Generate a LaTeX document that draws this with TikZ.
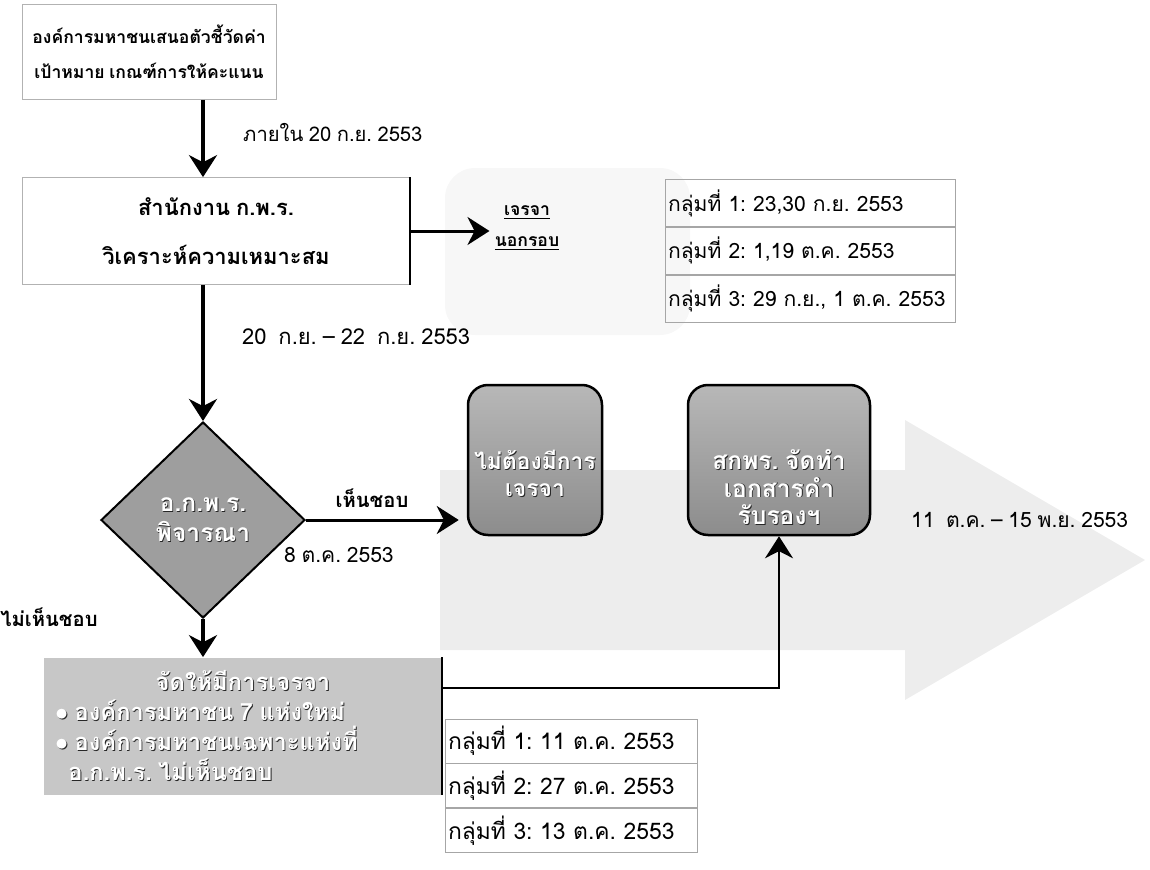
\documentclass[tikz,border=0pt]{standalone}
\usepackage{fontspec}
\setmainfont[Script=Thai, WordSpace=0.8]{Loma}
\usetikzlibrary{positioning}
\usetikzlibrary{shapes.geometric}
\usetikzlibrary{arrows.meta}

\newcommand{\shd}[1]{\rlap{\kern0.5pt\raisebox{-0.5pt}{\textcolor{black!85}{#1}}}\textcolor{white}{#1}}
\frenchspacing

\begin{document}
\begin{tikzpicture}[x=0.2mm, y=-0.2mm,
                    node distance=0mm,
                    every node/.style={font=\fontsize{12}{15}\selectfont},
                    bigarrow/.style={line width=0.8mm,
                      -{Stealth[length=4.4mm,width=5.6mm]}},
                    flowbox/.style={draw=black!30,
                      rectangle,
                      align=center,
                      font=\fontsize{10}{20}\selectfont\bfseries},
                    daterow/.style={draw=black!35,
                      rectangle,
                      minimum height=9.4mm,
                      text width=56.8mm,
                      inner xsep=0.6mm,
                      align=left},
                    greybox/.style={draw=black,
                      line width=0.5mm,
                      rounded corners=4mm,
                      top color=black!28,
                      bottom color=black!45,
                      minimum height=30mm,
                      align=center,
                      font=\fontsize{13}{15.5}\selectfont\bfseries}]
\useasboundingbox (0,0) rectangle (1150,870);
% background shapes
\fill[black!7] (440,470) -- (905,470) -- (905,420) -- (1145,560)
  -- (905,700) -- (905,650) -- (440,650) -- cycle;
\fill[black!3, rounded corners=6mm] (445,168) rectangle (690,335);

\node (a) [flowbox, minimum width=50.8mm, minimum height=19mm] at (149,52)
  {องค์การมหาชนเสนอตัวชี้วัดค่า\\เป้าหมาย เกณฑ์การให้คะแนน};
\node (b) [flowbox, minimum width=77.6mm, minimum height=21.4mm,
  font=\fontsize{12.5}{20}\selectfont\bfseries] at (216,231)
  {สำนักงาน ก.พ.ร.\\[8pt]วิเคราะห์ความเหมาะสม};
\draw[line width=0.4mm] (b.north east) -- (b.south east);
\node (c) [font=\fontsize{10}{18}\selectfont\bfseries, align=center,
  inner sep=1mm] at (527,228) {\underline{เจรจา}\\\underline{นอกรอบ}};

\node (t1) [daterow] at (810,203) {กลุ่มที่ 1: 23,30 ก.ย. 2553};
\node (t2) [daterow, below=of t1] {กลุ่มที่ 2: 1,19 ต.ค. 2553};
\node (t3) [daterow, below=of t2] {กลุ่มที่ 3: 29 ก.ย., 1 ต.ค. 2553};

\node (d) [diamond, draw=black, line width=0.4mm, fill=black!38,
  minimum width=40.8mm, minimum height=39.2mm, inner sep=0pt, align=center,
  font=\fontsize{14}{17}\selectfont\bfseries] at (203,520)
  {\shd{อ.ก.พ.ร.}\\\shd{พิจารณา}};

\node (e) [greybox, minimum width=26.8mm] at (535,460)
  {\rule{0pt}{9.5mm}\shd{ไม่ต้องมีการ}\\\shd{เจรจา}};
\node (f) [greybox, minimum width=36.4mm,
  font=\fontsize{14}{15.5}\selectfont\bfseries] at (779,460)
  {\rule{0pt}{15mm}\shd{สกพร. จัดทำ}\\\shd{เอกสารคำ}\\\shd{รับรองฯ}};

\node (g) [rectangle, fill=black!22, minimum width=79.4mm,
  minimum height=27.4mm, align=left,
  font=\fontsize{13.5}{17}\selectfont\bfseries] at (243,726)
  {\makebox[75mm]{\shd{จัดให้มีการเจรจา}}\\
   \shd{$\bullet$} \shd{องค์การมหาชน 7 แห่งใหม่}\\
   \shd{$\bullet$} \shd{องค์การมหาชนเฉพาะแห่งที่}\\
   \hspace*{2.6mm}\shd{อ.ก.พ.ร. ไม่เห็นชอบ}};
\draw[line width=0.4mm] (g.north east) -- (g.south east);

\node (u1) [daterow, text width=49.2mm, minimum height=8.8mm,
  font=\fontsize{13}{15}\selectfont] at (571,741)
  {กลุ่มที่ 1: 11 ต.ค. 2553};
\node (u2) [daterow, text width=49.2mm, minimum height=8.8mm,
  font=\fontsize{13}{15}\selectfont, below=of u1]
  {กลุ่มที่ 2: 27 ต.ค. 2553};
\node (u3) [daterow, text width=49.2mm, minimum height=8.8mm,
  font=\fontsize{13}{15}\selectfont, below=of u2]
  {กลุ่มที่ 3: 13 ต.ค. 2553};

% labels
\node (l1) [anchor=west, font=\fontsize{11.5}{15}\selectfont] at (237,132)
  {ภายใน 20 ก.ย. 2553};
\node (l2) [anchor=west, font=\fontsize{12.5}{15}\selectfont] at (236,337)
  {20~ ก.ย. – 22~ ก.ย. 2553};
\node (l3) [font=\fontsize{11.5}{15}\selectfont\bfseries] at (372,498) {เห็นชอบ};
\node (l4) [anchor=west] at (278,555) {8 ต.ค. 2553};
\node (l5) [anchor=west] at (905,520) {11~ ต.ค. – 15 พ.ย. 2553};
\node (l6) [anchor=west, inner sep=0pt,
  font=\fontsize{11.5}{15}\selectfont\bfseries] at (0,617) {ไม่เห็นชอบ};

% arrows
\draw[bigarrow] (a.south -| d.north) -- (b.north -| d.north);
\draw[bigarrow, line width=0.6mm] (b.east) -- (b.east -| c.west);
\draw[bigarrow] (b.south -| d.north) -- (d.north);
\draw[bigarrow, line width=0.6mm, shorten >=1.6mm] (d.east) -- (d.east -| e.west);
\draw[bigarrow] (d.south) -- (g.north -| d.south);
\draw[line width=0.45mm, -{Stealth[length=4.4mm,width=5.6mm]}]
  ([yshift=7.6mm]g.east) -| (f.south);
\end{tikzpicture}
\end{document}
